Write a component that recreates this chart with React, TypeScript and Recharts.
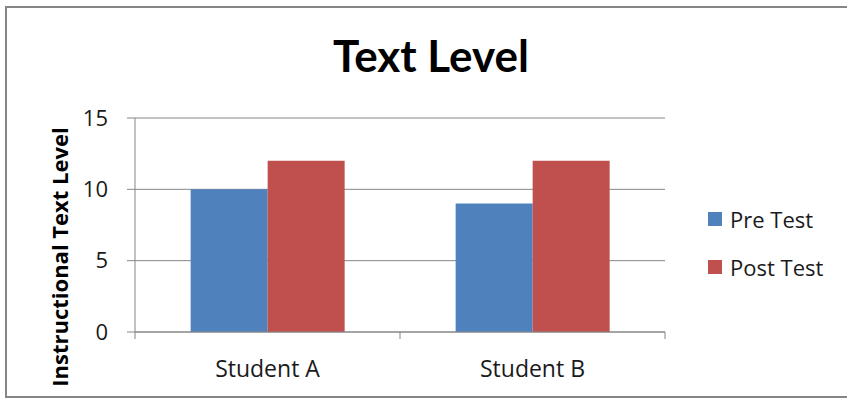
import React from "react";
import { BarChart, Bar, XAxis, YAxis, CartesianGrid } from "recharts";

const categories = ["Student A", "Student B"];
const preTest = [10, 9];
const postTest = [12, 12];
const yTicks = [0, 5, 10, 15];

const seriesNames = { pre: "Pre Test", post: "Post Test" };
const colors = { pre: "#4F81BD", post: "#C0504D" };

const data = categories.map((name, i) => ({ name, pre: preTest[i], post: postTest[i] }));

const TITLE_FONT = "Lato, 'Open Sans', sans-serif";
const FONT = "'Open Sans', Lato, sans-serif";
const GREY = "#868686";
const TEXT = "#1a1a1a";

// plot box: x 135..665, y 118..332
const MARGIN = { top: 118, right: 182, bottom: 27, left: 75 };
const Y_W = 60;
const PLOT_W = 847 - MARGIN.left - MARGIN.right - Y_W;
const HALF_BAND = PLOT_W / categories.length / 2;

const XTick = ({ x, y, payload, index }: any) => {
  const axisY = y - 8;
  return (
    <g>
      <line x1={x - HALF_BAND} x2={x - HALF_BAND} y1={axisY} y2={axisY + 7} stroke={GREY} />
      {index === categories.length - 1 && (
        <line x1={x + HALF_BAND} x2={x + HALF_BAND} y1={axisY} y2={axisY + 7} stroke={GREY} />
      )}
      <text x={x} y={axisY + 45} textAnchor="middle" fill={TEXT} fontSize={23} fontFamily={FONT}>
        {payload.value}
      </text>
    </g>
  );
};

const YTitle = () => (
  <text
    x={0}
    y={0}
    transform="translate(68, 257) rotate(-90)"
    textAnchor="middle"
    fill="#000"
    fontSize={22}
    fontWeight={700}
    fontFamily={FONT}
  >
    Instructional Text Level
  </text>
);

const LegendBox = () => (
  <div style={{ fontFamily: FONT, fontSize: 22, color: TEXT }}>
    {(["pre", "post"] as const).map((k) => (
      <div key={k} style={{ display: "flex", alignItems: "center", height: 48 }}>
        <span style={{ width: 14, height: 14, background: colors[k], marginRight: 8 }} />
        <span>{seriesNames[k]}</span>
      </div>
    ))}
  </div>
);

export default function App() {
  return (
    <div style={{ position: "absolute", left: 0, top: 0, width: 847, height: 399, overflow: "hidden", background: "#fff" }}>
      <div
        style={{
          position: "absolute",
          left: 5,
          top: 6,
          width: 900,
          height: 388,
          border: `2px solid ${GREY}`,
        }}
      />
      <div
        style={{
          position: "absolute",
          left: 0,
          width: 862,
          top: 30,
          textAlign: "center",
          fontFamily: TITLE_FONT,
          fontWeight: 700,
          fontSize: 44,
          lineHeight: "50px",
          color: "#000",
        }}
      >
        Text Level
      </div>
      <div style={{ position: "absolute", left: 0, top: 0 }}>
        <BarChart width={847} height={399} data={data} margin={MARGIN} barCategoryGap="21%" barGap={0}>
          <CartesianGrid vertical={false} stroke={GREY} />
          <XAxis dataKey="name" height={40} stroke={GREY} tickLine={false} tick={<XTick />} interval={0} />
          <YAxis
            width={Y_W}
            domain={[0, 15]}
            ticks={yTicks}
            interval={0}
            stroke={GREY}
            tickSize={8}
            tickMargin={19}
            tick={{ fill: TEXT, fontSize: 22, fontFamily: FONT }}
            label={<YTitle />}
          />
          <Bar dataKey="pre" name={seriesNames.pre} fill={colors.pre} isAnimationActive={false} />
          <Bar dataKey="post" name={seriesNames.post} fill={colors.post} isAnimationActive={false} />
        </BarChart>
      </div>
      <div style={{ position: "absolute", left: 708, top: 195 }}>
        <LegendBox />
      </div>
    </div>
  );
}
